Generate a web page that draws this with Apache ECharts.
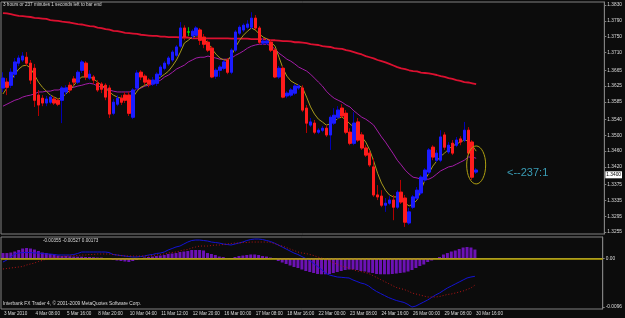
<!DOCTYPE html>
<html>
<head>
<meta charset="utf-8">
<script src="https://cdn.jsdelivr.net/npm/echarts@6/dist/echarts.min.js"></script>
<style>
  html, body { margin: 0; padding: 0; background: #0c0c0c; }
  #chart { width: 625px; height: 318px; }
</style>
</head>
<body>
<div id="chart"></div>
<script>
// time axis labels, one every 8 bars
const timeLabels = ['3 Mar 2010', '4 Mar 08:00', '5 Mar 16:00', '8 Mar 20:00', '10 Mar 04:00', '11 Mar 12:00',
  '12 Mar 20:00', '16 Mar 00:00', '17 Mar 08:00', '18 Mar 16:00', '22 Mar 00:00', '23 Mar 08:00',
  '24 Mar 16:00', '26 Mar 00:00', '29 Mar 08:00', '30 Mar 16:00'];
const priceTicks = [1.3830, 1.3790, 1.3750, 1.3710, 1.3665, 1.3625, 1.3585, 1.3540, 1.3500,
  1.3460, 1.3420, 1.3375, 1.3335, 1.3295, 1.3255];
const macdTicks = [0.00421, 0, -0.0096];
const macdTickLabels = ['0.00421', '0.00', '-0.0096'];

// H4 candles
const openP = [
  1.3620, 1.3635, 1.3627, 1.3655, 1.3683, 1.3691, 1.3698, 1.3683, 1.3670, 1.3602,
  1.3594, 1.3582, 1.3584, 1.3592, 1.3589, 1.3589, 1.3610, 1.3627, 1.3643, 1.3635,
  1.3665, 1.3683, 1.3645, 1.3648, 1.3632, 1.3630, 1.3627, 1.3620, 1.3556, 1.3579,
  1.3594, 1.3602, 1.3602, 1.3546, 1.3620, 1.3660, 1.3650, 1.3640, 1.3630, 1.3632,
  1.3653, 1.3670, 1.3681, 1.3691, 1.3703, 1.3726, 1.3772, 1.3762, 1.3752, 1.3754,
  1.3767, 1.3749, 1.3736, 1.3721, 1.3650, 1.3665, 1.3670, 1.3691, 1.3660, 1.3716,
  1.3759, 1.3767, 1.3774, 1.3774, 1.3797, 1.3772, 1.3734, 1.3734, 1.3736, 1.3716,
  1.3648, 1.3670, 1.3600, 1.3602, 1.3607, 1.3620, 1.3620, 1.3569, 1.3526, 1.3531,
  1.3508, 1.3513, 1.3518, 1.3501, 1.3531, 1.3546, 1.3569, 1.3556, 1.3508, 1.3480,
  1.3534, 1.3501, 1.3468, 1.3455, 1.3420, 1.3349, 1.3346, 1.3323, 1.3328, 1.3336,
  1.3318, 1.3356, 1.3341, 1.3278, 1.3318, 1.3341, 1.3354, 1.3387, 1.3407, 1.3470,
  1.3437, 1.3437, 1.3501, 1.3458, 1.3480, 1.3475, 1.3491, 1.3488, 1.3513, 1.3483,
  1.3407];
const closeP = [
  1.3645, 1.3622, 1.3660, 1.3686, 1.3696, 1.3701, 1.3683, 1.3640, 1.3589, 1.3577,
  1.3582, 1.3592, 1.3597, 1.3582, 1.3579, 1.3620, 1.3620, 1.3615, 1.3635, 1.3660,
  1.3686, 1.3648, 1.3655, 1.3640, 1.3615, 1.3617, 1.3597, 1.3554, 1.3584, 1.3594,
  1.3584, 1.3589, 1.3556, 1.3615, 1.3658, 1.3648, 1.3635, 1.3630, 1.3640, 1.3655,
  1.3673, 1.3683, 1.3696, 1.3711, 1.3724, 1.3772, 1.3749, 1.3762, 1.3764, 1.3772,
  1.3741, 1.3731, 1.3716, 1.3648, 1.3665, 1.3673, 1.3686, 1.3660, 1.3716, 1.3762,
  1.3774, 1.3779, 1.3782, 1.3797, 1.3772, 1.3736, 1.3739, 1.3739, 1.3716, 1.3648,
  1.3670, 1.3597, 1.3607, 1.3615, 1.3625, 1.3625, 1.3564, 1.3531, 1.3534, 1.3508,
  1.3513, 1.3518, 1.3501, 1.3546, 1.3551, 1.3564, 1.3549, 1.3508, 1.3480, 1.3531,
  1.3488, 1.3468, 1.3450, 1.3425, 1.3349, 1.3344, 1.3323, 1.3328, 1.3336, 1.3318,
  1.3356, 1.3331, 1.3280, 1.3306, 1.3344, 1.3361, 1.3394, 1.3412, 1.3463, 1.3445,
  1.3455, 1.3496, 1.3470, 1.3475, 1.3455, 1.3488, 1.3483, 1.3513, 1.3455, 1.3394,
  1.3412];
const lowP = [
  1.3610, 1.3602, 1.3620, 1.3645, 1.3676, 1.3686, 1.3676, 1.3630, 1.3572, 1.3549,
  1.3574, 1.3574, 1.3579, 1.3577, 1.3574, 1.3531, 1.3602, 1.3607, 1.3627, 1.3630,
  1.3658, 1.3640, 1.3640, 1.3630, 1.3610, 1.3607, 1.3589, 1.3544, 1.3551, 1.3574,
  1.3577, 1.3582, 1.3549, 1.3541, 1.3615, 1.3640, 1.3627, 1.3622, 1.3625, 1.3625,
  1.3648, 1.3665, 1.3676, 1.3686, 1.3698, 1.3721, 1.3741, 1.3752, 1.3746, 1.3749,
  1.3729, 1.3721, 1.3711, 1.3645, 1.3643, 1.3648, 1.3665, 1.3655, 1.3655, 1.3711,
  1.3754, 1.3762, 1.3769, 1.3769, 1.3767, 1.3731, 1.3729, 1.3729, 1.3711, 1.3645,
  1.3643, 1.3594, 1.3594, 1.3597, 1.3602, 1.3615, 1.3559, 1.3506, 1.3521, 1.3503,
  1.3503, 1.3508, 1.3496, 1.3463, 1.3526, 1.3541, 1.3544, 1.3503, 1.3475, 1.3475,
  1.3483, 1.3463, 1.3445, 1.3420, 1.3344, 1.3336, 1.3318, 1.3306, 1.3323, 1.3285,
  1.3313, 1.3326, 1.3268, 1.3273, 1.3313, 1.3336, 1.3349, 1.3382, 1.3402, 1.3437,
  1.3432, 1.3432, 1.3463, 1.3453, 1.3450, 1.3470, 1.3475, 1.3483, 1.3450, 1.3387,
  1.3402];
const highP = [
  1.3660, 1.3645, 1.3670, 1.3696, 1.3703, 1.3711, 1.3711, 1.3691, 1.3681, 1.3615,
  1.3602, 1.3600, 1.3602, 1.3600, 1.3594, 1.3625, 1.3627, 1.3635, 1.3650, 1.3665,
  1.3691, 1.3688, 1.3665, 1.3653, 1.3640, 1.3635, 1.3632, 1.3627, 1.3592, 1.3602,
  1.3602, 1.3610, 1.3610, 1.3620, 1.3665, 1.3665, 1.3655, 1.3645, 1.3648, 1.3660,
  1.3678, 1.3688, 1.3701, 1.3716, 1.3729, 1.3787, 1.3779, 1.3774, 1.3769, 1.3777,
  1.3772, 1.3757, 1.3741, 1.3726, 1.3670, 1.3678, 1.3691, 1.3696, 1.3721, 1.3767,
  1.3779, 1.3784, 1.3792, 1.3812, 1.3805, 1.3777, 1.3746, 1.3744, 1.3741, 1.3721,
  1.3676, 1.3676, 1.3612, 1.3620, 1.3630, 1.3630, 1.3627, 1.3577, 1.3544, 1.3539,
  1.3518, 1.3524, 1.3526, 1.3551, 1.3569, 1.3574, 1.3579, 1.3564, 1.3518, 1.3559,
  1.3544, 1.3508, 1.3475, 1.3463, 1.3442, 1.3374, 1.3361, 1.3341, 1.3346, 1.3349,
  1.3361, 1.3387, 1.3349, 1.3316, 1.3349, 1.3369, 1.3399, 1.3417, 1.3468, 1.3475,
  1.3463, 1.3513, 1.3508, 1.3483, 1.3488, 1.3496, 1.3498, 1.3534, 1.3521, 1.3488,
  1.3417];

// moving averages
const maFast = [
  1.3605, 1.3620, 1.3638, 1.3655, 1.3668, 1.3676, 1.3678, 1.3670, 1.3653, 1.3635,
  1.3622, 1.3612, 1.3602, 1.3597, 1.3592, 1.3597, 1.3605, 1.3615, 1.3627, 1.3640,
  1.3648, 1.3648, 1.3648, 1.3643, 1.3635, 1.3627, 1.3620, 1.3610, 1.3602, 1.3597,
  1.3594, 1.3594, 1.3594, 1.3597, 1.3612, 1.3622, 1.3627, 1.3632, 1.3635, 1.3640,
  1.3648, 1.3655, 1.3663, 1.3676, 1.3691, 1.3711, 1.3734, 1.3741, 1.3749, 1.3752,
  1.3752, 1.3744, 1.3734, 1.3719, 1.3706, 1.3696, 1.3691, 1.3691, 1.3703, 1.3724,
  1.3741, 1.3754, 1.3764, 1.3772, 1.3767, 1.3757, 1.3749, 1.3744, 1.3736, 1.3726,
  1.3698, 1.3670, 1.3650, 1.3638, 1.3632, 1.3627, 1.3620, 1.3597, 1.3572, 1.3554,
  1.3541, 1.3534, 1.3526, 1.3529, 1.3534, 1.3544, 1.3546, 1.3539, 1.3529, 1.3521,
  1.3511, 1.3496, 1.3483, 1.3463, 1.3435, 1.3404, 1.3379, 1.3361, 1.3349, 1.3344,
  1.3344, 1.3336, 1.3328, 1.3321, 1.3326, 1.3336, 1.3361, 1.3387, 1.3404, 1.3422,
  1.3435, 1.3447, 1.3455, 1.3465, 1.3473, 1.3478, 1.3483, 1.3488, 1.3486, 1.3475,
  1.3460];
const maMid = [
  1.3574, 1.3579, 1.3584, 1.3589, 1.3592, 1.3597, 1.3600, 1.3602, 1.3605, 1.3610,
  1.3610, 1.3612, 1.3612, 1.3615, 1.3615, 1.3617, 1.3620, 1.3620, 1.3622, 1.3625,
  1.3627, 1.3630, 1.3632, 1.3630, 1.3625, 1.3622, 1.3620, 1.3615, 1.3612, 1.3610,
  1.3610, 1.3610, 1.3610, 1.3612, 1.3617, 1.3620, 1.3625, 1.3627, 1.3630, 1.3635,
  1.3640, 1.3648, 1.3653, 1.3660, 1.3668, 1.3673, 1.3678, 1.3686, 1.3691, 1.3696,
  1.3698, 1.3698, 1.3701, 1.3698, 1.3696, 1.3693, 1.3693, 1.3693, 1.3696, 1.3703,
  1.3708, 1.3714, 1.3721, 1.3726, 1.3729, 1.3731, 1.3731, 1.3731, 1.3726, 1.3719,
  1.3708, 1.3701, 1.3693, 1.3688, 1.3681, 1.3673, 1.3668, 1.3663, 1.3655, 1.3645,
  1.3635, 1.3625, 1.3612, 1.3602, 1.3594, 1.3589, 1.3584, 1.3577, 1.3572, 1.3562,
  1.3554, 1.3546, 1.3541, 1.3534, 1.3526, 1.3511, 1.3496, 1.3483, 1.3468, 1.3453,
  1.3437, 1.3425, 1.3412, 1.3402, 1.3394, 1.3392, 1.3389, 1.3389, 1.3389, 1.3394,
  1.3402, 1.3410, 1.3415, 1.3420, 1.3422, 1.3427, 1.3432, 1.3437, 1.3445, 1.3445,
  1.3442];
const maSlow = [
  1.3810, 1.3809, 1.3807, 1.3805, 1.3803, 1.3802, 1.3801, 1.3800, 1.3798, 1.3797,
  1.3796, 1.3795, 1.3792, 1.3791, 1.3790, 1.3788, 1.3787, 1.3786, 1.3784, 1.3782,
  1.3781, 1.3779, 1.3777, 1.3776, 1.3773, 1.3772, 1.3769, 1.3768, 1.3765, 1.3764,
  1.3762, 1.3760, 1.3759, 1.3758, 1.3757, 1.3755, 1.3754, 1.3753, 1.3752, 1.3752,
  1.3750, 1.3750, 1.3749, 1.3749, 1.3749, 1.3748, 1.3748, 1.3748, 1.3746, 1.3746,
  1.3746, 1.3746, 1.3746, 1.3746, 1.3746, 1.3746, 1.3746, 1.3746, 1.3745, 1.3745,
  1.3745, 1.3745, 1.3745, 1.3744, 1.3744, 1.3744, 1.3744, 1.3743, 1.3741, 1.3741,
  1.3740, 1.3739, 1.3739, 1.3738, 1.3736, 1.3736, 1.3735, 1.3734, 1.3731, 1.3730,
  1.3729, 1.3726, 1.3725, 1.3724, 1.3721, 1.3720, 1.3719, 1.3716, 1.3714, 1.3711,
  1.3708, 1.3705, 1.3701, 1.3698, 1.3695, 1.3691, 1.3688, 1.3685, 1.3681, 1.3677,
  1.3673, 1.3670, 1.3668, 1.3665, 1.3663, 1.3662, 1.3659, 1.3658, 1.3657, 1.3655,
  1.3653, 1.3650, 1.3648, 1.3645, 1.3643, 1.3640, 1.3638, 1.3635, 1.3634, 1.3632,
  1.3630];

// MACD sub window
const macdHist = [
  0.00104, 0.00104, 0.00114, 0.00134, 0.00164, 0.00193, 0.00203, 0.00193, 0.00173, 0.00144,
  0.00114, 0.00104, 0.00085, 0.00075, 0.00055, 0.00045, 0.00045, 0.00039, 0.00035, 0.00032,
  0.00032, 0.00026, 0.00026, 0.00022, 0.00016, 0.00016, 0.00006, -0.00004, -0.00033, -0.00043,
  -0.00053, -0.00063, -0.00073, -0.00053, -0.00033, -0.0001, 0.00016, 0.00026, 0.00035, 0.00045,
  0.00055, 0.00065, 0.00085, 0.00095, 0.00104, 0.00124, 0.00134, 0.00144, 0.00164, 0.00164,
  0.00164, 0.00154, 0.00104, 0.00085, 0.00065, 0.00035, 0.00026, 0.00006, 0.00002, 0.00026,
  0.00045, 0.00055, 0.00065, 0.00075, 0.00075, 0.00065, 0.00045, 0.00035, 0.00016, -0.00004,
  -0.00053, -0.00083, -0.00112, -0.00142, -0.00171, -0.00191, -0.00221, -0.0025, -0.0027, -0.0029,
  -0.00309, -0.00315, -0.00315, -0.00309, -0.0029, -0.0027, -0.0025, -0.0023, -0.00221, -0.00221,
  -0.0023, -0.0025, -0.0026, -0.0028, -0.0029, -0.00309, -0.00315, -0.00315, -0.00315, -0.00309,
  -0.003, -0.0029, -0.0028, -0.0026, -0.0023, -0.00191, -0.00152, -0.00122, -0.00073, -0.00043,
  -0.00004, 0.00026, 0.00075, 0.00104, 0.00134, 0.00154, 0.00183, 0.00213, 0.00223, 0.00213,
  0.00173];
const macdMain = [
  -0.00073, -0.00033, 0.00026, 0.00085, 0.00104, 0.00114, 0.00114, 0.00114, 0.00104, 0.00104,
  0.00095, 0.00085, 0.00085, 0.00075, 0.00065, 0.00065, 0.00065, 0.00065, 0.00075, 0.00095,
  0.00124, 0.00124, 0.00124, 0.00124, 0.00124, 0.00124, 0.00124, 0.00114, 0.00075, 0.00065,
  0.00055, 0.00045, 0.00035, 0.00026, 0.00026, 0.00035, 0.00045, 0.00065, 0.00075, 0.00095,
  0.00104, 0.00124, 0.00164, 0.00193, 0.00223, 0.00242, 0.00282, 0.00321, 0.00351, 0.0036,
  0.0036, 0.00351, 0.00341, 0.00321, 0.00311, 0.00301, 0.00282, 0.00272, 0.00262, 0.00282,
  0.00301, 0.00321, 0.00351, 0.0037, 0.0038, 0.0038, 0.0037, 0.00351, 0.00331, 0.00301,
  0.00262, 0.00223, 0.00183, 0.00144, 0.00104, 0.00075, 0.00035, -0.00004, -0.00043, -0.00102,
  -0.00162, -0.00221, -0.0029, -0.00329, -0.00349, -0.00368, -0.00374, -0.00382, -0.00388, -0.00427,
  -0.00457, -0.00487, -0.00506, -0.00546, -0.00605, -0.00654, -0.00693, -0.00733, -0.00772, -0.00802,
  -0.00831, -0.00851, -0.00871, -0.0091, -0.0096, -0.0094, -0.009, -0.00861, -0.00821, -0.00772,
  -0.00723, -0.00684, -0.00634, -0.00585, -0.00546, -0.00506, -0.00467, -0.00427, -0.00388, -0.00368,
  -0.00355];
const macdSignal = [
  -0.00211, -0.00201, -0.00191, -0.00181, -0.00171, -0.00162, -0.00132, -0.00112, -0.00093, -0.00063,
  -0.00043, -0.00014, 0.00006, 0.00016, 0.00026, 0.00035, 0.00045, 0.00045, 0.00055, 0.00055,
  0.00065, 0.00065, 0.00075, 0.00075, 0.00085, 0.00085, 0.00085, 0.00085, 0.00075, 0.00065,
  0.00055, 0.00045, 0.00045, 0.00045, 0.00045, 0.00045, 0.00045, 0.00045, 0.00055, 0.00065,
  0.00075, 0.00085, 0.00104, 0.00114, 0.00124, 0.00144, 0.00164, 0.00173, 0.00203, 0.00223,
  0.00242, 0.00242, 0.00242, 0.00252, 0.00262, 0.00262, 0.00272, 0.00282, 0.00292, 0.00301,
  0.00301, 0.00311, 0.00311, 0.00321, 0.00321, 0.00321, 0.00321, 0.00321, 0.00311, 0.00292,
  0.00262, 0.00242, 0.00213, 0.00183, 0.00154, 0.00124, 0.00104, 0.00095, 0.00075, 0.00055,
  0.00026, 0.00006, -0.00014, -0.00043, -0.00083, -0.00122, -0.00152, -0.00171, -0.00191, -0.00221,
  -0.0025, -0.0026, -0.0028, -0.003, -0.00339, -0.00378, -0.00418, -0.00457, -0.00496, -0.00536,
  -0.00575, -0.00595, -0.00615, -0.00644, -0.00684, -0.00703, -0.00723, -0.00743, -0.00762, -0.00762,
  -0.00762, -0.00753, -0.00733, -0.00713, -0.00703, -0.00684, -0.00664, -0.00644, -0.00615, -0.00585,
  -0.00527];

const SLOTS = 153; // bars + empty chart shift on the right
const slots = Array.from({ length: SLOTS }, (_, i) => String(i));
const candles = openP.map((o, i) => [o, closeP[i], lowP[i], highP[i]]);
const bodies = openP.map((o, i) => [o, closeP[i], Math.min(o, closeP[i]), Math.max(o, closeP[i])]);
const isLabel = (i) => i % 8 === 0 && i / 8 < timeLabels.length;

const font = 'Liberation Sans';
const grey = '#808080';
const txt = '#dcdcdc';

const chart = echarts.init(document.getElementById('chart'), null, { renderer: 'canvas' });

const option = {
  backgroundColor: '#0c0c0c',
  animation: false,
  grid: [
    { left: 1, right: 19, top: 2, height: 232, show: true, borderColor: grey, borderWidth: 1 },
    { left: 1, right: 19, top: 237, height: 72, show: true, borderColor: grey, borderWidth: 1 },
  ],
  xAxis: [
    { type: 'category', gridIndex: 0, data: slots, show: false },
    {
      type: 'category', gridIndex: 1, data: slots,
      axisLine: { lineStyle: { color: grey } },
      axisTick: { interval: (i) => isLabel(i), alignWithLabel: true, length: 2, lineStyle: { color: grey } },
      axisLabel: {
        interval: (i) => isLabel(i),
        formatter: (v, i) => (isLabel(i) ? timeLabels[i / 8] : ''),
        align: 'left', color: txt, fontSize: 4.6, fontFamily: font, margin: 2, padding: [0, 0, 0, 1],
      },
      splitLine: { show: false },
    },
  ],
  yAxis: [
    {
      type: 'value', gridIndex: 0, position: 'right', min: 1.3250, max: 1.3838,
      axisLine: { show: true, lineStyle: { color: grey } },
      axisTick: { show: true, customValues: priceTicks, length: 2, lineStyle: { color: grey } },
      axisLabel: { customValues: priceTicks, formatter: (v) => v.toFixed(4), color: txt, fontSize: 4.8, fontFamily: font, margin: 3 },
      splitLine: { show: false },
    },
    {
      type: 'value', gridIndex: 1, position: 'right', min: -0.00999, max: 0.0042,
      axisLine: { show: true, lineStyle: { color: grey } },
      axisTick: { show: true, customValues: macdTicks, length: 2, lineStyle: { color: grey } },
      axisLabel: {
        customValues: macdTicks,
        formatter: (v) => {
          let k = 0;
          macdTicks.forEach((t, j) => { if (Math.abs(t - v) < Math.abs(macdTicks[k] - v)) k = j; });
          return macdTickLabels[k];
        },
        color: txt, fontSize: 4.8, fontFamily: font, margin: 3,
      },
      splitLine: { show: false },
    },
  ],
  series: [
    { name: 'MA slow', type: 'line', xAxisIndex: 0, yAxisIndex: 0, data: maSlow, showSymbol: false, silent: true, z: 2,
      lineStyle: { color: '#dc1030', width: 1.8 } },
    { name: 'MA mid', type: 'line', xAxisIndex: 0, yAxisIndex: 0, data: maMid, showSymbol: false, silent: true, z: 2,
      lineStyle: { color: '#a41ca8', width: 1 } },
    { name: 'MA fast', type: 'line', xAxisIndex: 0, yAxisIndex: 0, data: maFast, showSymbol: false, silent: true, z: 2,
      lineStyle: { color: '#a89a1c', width: 1 } },
    {
      name: 'wicks', type: 'candlestick', xAxisIndex: 0, yAxisIndex: 0, data: candles, barWidth: 3, silent: true, z: 3,
      itemStyle: { color: '#0000b4', color0: '#b40000', borderColor: '#0000b4', borderColor0: '#b40000', borderColorDoji: '#00c800', borderWidth: 1 },
    },
    {
      name: 'bodies', type: 'candlestick', xAxisIndex: 0, yAxisIndex: 0, data: bodies, barWidth: 3, silent: true, z: 4,
      itemStyle: { color: '#1c1cff', color0: '#ff1c1c', borderColor: '#1c1cff', borderColor0: '#ff1c1c', borderColorDoji: '#00e000', borderWidth: 1 },
    },
    {
      // current price tag on the price scale
      name: 'last', type: 'line', xAxisIndex: 0, yAxisIndex: 0, data: [], silent: true, z: 6,
      markLine: {
        silent: true, symbol: 'none',
        lineStyle: { color: 'rgba(0,0,0,0)', width: 0 },
        label: {
          show: true, position: 'end', distance: 1, formatter: (p) => p.value.toFixed(4),
          backgroundColor: '#ffffff', color: '#000000', fontSize: 4.8, fontFamily: font, padding: [1, 1],
        },
        data: [{ yAxis: closeP[closeP.length - 1] }],
      },
    },
    {
      name: 'OsMA', type: 'bar', xAxisIndex: 1, yAxisIndex: 1, data: macdHist, barWidth: 3, silent: true, z: 2,
      itemStyle: { color: '#6c12b4' },
      markLine: {
        silent: true, symbol: 'none', label: { show: false },
        lineStyle: { color: '#bca800', width: 1.5, type: 'solid' },
        data: [{ yAxis: 0 }],
      },
    },
    { name: 'MACD', type: 'line', xAxisIndex: 1, yAxisIndex: 1, data: macdMain, showSymbol: false, silent: true, z: 3,
      lineStyle: { color: '#1414d4', width: 1 } },
    { name: 'Signal', type: 'line', xAxisIndex: 1, yAxisIndex: 1, data: macdSignal, showSymbol: false, silent: true, z: 3,
      lineStyle: { color: '#b41414', width: 1, type: [1, 2] } },
  ],
  graphic: [
    { type: 'text', id: 'timer', left: 3, top: 2.5, silent: true,
      style: { text: '3 hours or 237 minutes 1 seconds left to bar end', fill: txt, fontSize: 4.6, fontFamily: font } },
    { type: 'text', id: 'macdvals', left: 43, top: 238, silent: true,
      style: { text: '-0.00355 -0.00527 0.00173', fill: txt, fontSize: 4.6, fontFamily: font } },
    { type: 'text', id: 'copy', left: 3, top: 301.5, silent: true,
      style: { text: 'Interbank FX Trader 4, © 2001-2009 MetaQuotes Software Corp.', fill: txt, fontSize: 4.8, fontFamily: font } },
    { type: 'text', id: 'ratio', left: 507, top: 167, silent: true,
      style: { text: '<--237:1', fill: '#3a9cb5', fontSize: 11, fontFamily: font } },
  ],
};

chart.setOption(option);

// ellipse drawn round the last bars
const c = chart.convertToPixel({ xAxisIndex: 0, yAxisIndex: 0 }, [candles.length - 1, 1.3425]);
chart.setOption({
  graphic: [{ type: 'ellipse', id: 'ring', silent: true, z: 10,
    shape: { cx: c[0], cy: c[1], rx: 9.5, ry: 19 },
    style: { fill: 'none', stroke: '#b0a010', lineWidth: 1 } }],
});

window.addEventListener('resize', () => {
  chart.resize();
});
</script>
</body>
</html>
